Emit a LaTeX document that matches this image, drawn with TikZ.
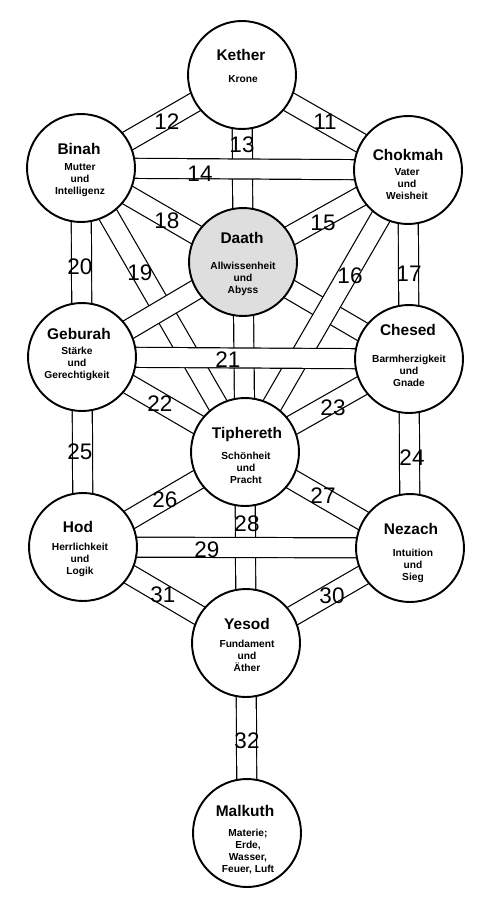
\documentclass[tikz,border=0pt]{standalone}
\usepackage{fontspec}
\setmainfont{Liberation Sans}
\usepackage{xcolor}
\definecolor{daathfill}{HTML}{DEDEDE}
\usetikzlibrary{backgrounds}
\tikzset{
  sefira/.style={circle,draw,line width=1.1pt,fill=white,minimum size=2.16cm,inner sep=0pt},
  sefname/.style={font=\fontsize{8.8}{10}\selectfont\bfseries,inner sep=0pt,anchor=base},
  sefsub/.style={font=\fontsize{5.8}{6.8}\selectfont\bfseries,align=center,inner sep=0pt},
  pathnum/.style={font=\fontsize{12.8}{14}\selectfont,inner sep=0pt,anchor=base},
  pathedge/.style={line width=0.424cm,black},
  pathfill/.style={line width=0.376cm,white},
}
% one channel between two sefirot: black rim, white inside
\newcommand{\sefpath}[2]{%
  \draw[pathedge] (#1.center) -- (#2.center);
  \draw[pathfill] (#1.center) -- (#2.center);}

\begin{document}
\begin{tikzpicture}[x=0.02cm,y=-0.02cm]
\useasboundingbox (0,0) rectangle (500,909);
  % sefirot
\node[sefira] (kether) at (242,75) {};
\node[sefira] (binah) at (81,168) {};
\node[sefira] (chokmah) at (408,170) {};
\node[sefira,fill=daathfill] (daath) at (243,262) {};
\node[sefira] (geburah) at (82,357) {};
\node[sefira] (chesed) at (409,359) {};
\node[sefira] (tiphereth) at (245,452) {};
\node[sefira] (hod) at (83,547) {};
\node[sefira] (nezach) at (410,548) {};
\node[sefira] (yesod) at (246,643) {};
\node[sefira] (malkuth) at (247,833) {};
  % names and meanings
\node[sefname] (kether-n) at (241,60.5) {Kether};
\node[sefsub] (kether-s) at (243,79) {Krone};
\node[sefname] (binah-n) at (79,154.5) {Binah};
\node[sefsub] (binah-s) at (80,180) {Mutter\\und\\Intelligenz};
\node[sefname] (chokmah-n) at (408,160.5) {Chokmah};
\node[sefsub] (chokmah-s) at (407,184) {Vater\\und\\Weisheit};
\node[sefname] (daath-n) at (242,243.5) {Daath};
\node[sefsub] (daath-s) at (243,279) {Allwissenheit\\und\\Abyss};
\node[sefname] (geburah-n) at (79,339.5) {Geburah};
\node[sefsub] (geburah-s) at (77,364) {Stärke\\und\\Gerechtigkeit};
\node[sefname] (chesed-n) at (408,335.5) {Chesed};
\node[sefsub] (chesed-s) at (409,371) {Barmherzigkeit\\und\\Gnade};
\node[sefname] (tiphereth-n) at (247,438.5) {Tiphereth};
\node[sefsub] (tiphereth-s) at (246,468) {Schönheit\\und\\Pracht};
\node[sefname] (hod-n) at (78,532.5) {Hod};
\node[sefsub] (hod-s) at (80,560) {Herrlichkeit\\und\\Logik};
\node[sefname] (nezach-n) at (411,534.5) {Nezach};
\node[sefsub] (nezach-s) at (413,566) {Intuition\\und\\Sieg};
\node[sefname] (yesod-n) at (247,629.5) {Yesod};
\node[sefsub] (yesod-s) at (247,656) {Fundament\\und\\Äther};
\node[sefname] (malkuth-n) at (245,816.5) {Malkuth};
\node[sefsub] (malkuth-s) at (248,852) {Materie;\\Erde,\\Wasser,\\Feuer, Luft};
  % channels, later ones lie over earlier ones
\begin{scope}[on background layer]
\fill[white] (0,0) rectangle (500,909);
\sefpath{kether}{chokmah}
\sefpath{kether}{binah}
\sefpath{kether}{daath}
\sefpath{binah}{daath}
\sefpath{chokmah}{daath}
\sefpath{binah}{tiphereth}
\sefpath{daath}{geburah}
\sefpath{daath}{chesed}
\sefpath{chokmah}{tiphereth}
\sefpath{daath}{tiphereth}
\sefpath{binah}{geburah}
\sefpath{chokmah}{chesed}
\sefpath{geburah}{chesed}
\sefpath{binah}{chokmah}
\sefpath{geburah}{tiphereth}
\sefpath{chesed}{tiphereth}
\sefpath{chesed}{nezach}
\sefpath{geburah}{hod}
\sefpath{tiphereth}{hod}
\sefpath{tiphereth}{nezach}
\sefpath{tiphereth}{yesod}
\sefpath{hod}{nezach}
\sefpath{nezach}{yesod}
\sefpath{hod}{yesod}
\sefpath{yesod}{malkuth}
\end{scope}
  % path numbers
\node[pathnum] (p11) at (325,130) {11};
\node[pathnum] (p12) at (167,130) {12};
\node[pathnum] (p13) at (242,153) {13};
\node[pathnum] (p14) at (200,181) {14};
\node[pathnum] (p15) at (323,230) {15};
\node[pathnum] (p16) at (350,283) {16};
\node[pathnum] (p17) at (409,281) {17};
\node[pathnum] (p18) at (167,228) {18};
\node[pathnum] (p19) at (140,280) {19};
\node[pathnum] (p20) at (80,274) {20};
\node[pathnum] (p21) at (228,367) {21};
\node[pathnum] (p22) at (160,411) {22};
\node[pathnum] (p23) at (333,415) {23};
\node[pathnum] (p24) at (412,465) {24};
\node[pathnum] (p25) at (80,459) {25};
\node[pathnum] (p26) at (165,507) {26};
\node[pathnum] (p27) at (323,503) {27};
\node[pathnum] (p28) at (247,531) {28};
\node[pathnum] (p29) at (207,557) {29};
\node[pathnum] (p30) at (332,603) {30};
\node[pathnum] (p31) at (163,602) {31};
\node[pathnum] (p32) at (247,748) {32};
\end{tikzpicture}
\end{document}
